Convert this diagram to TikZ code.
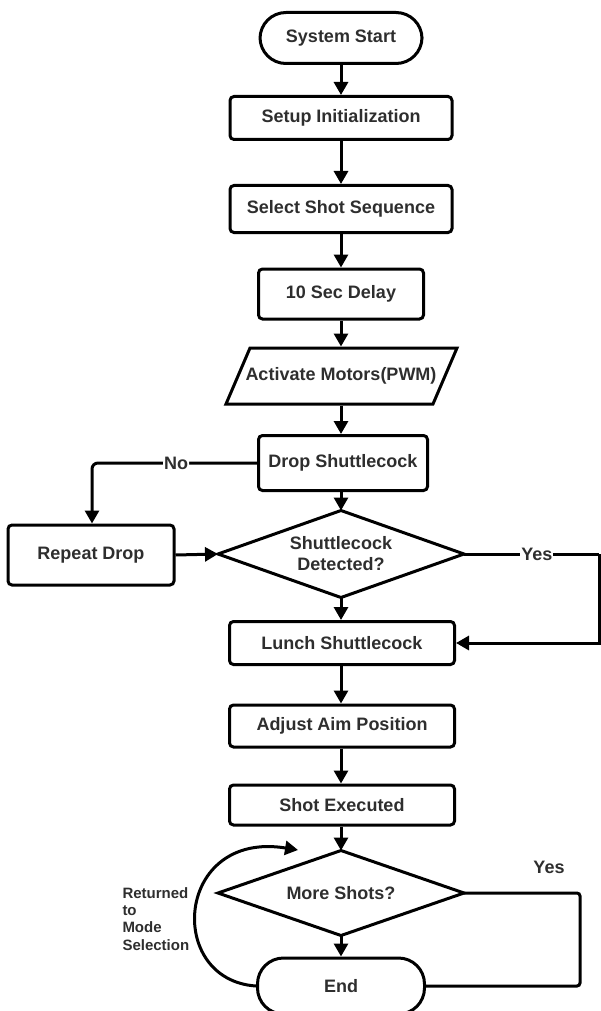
\documentclass[tikz,border=0pt]{standalone}
\usepackage{fontspec}
\setmainfont{Liberation Sans}
\usetikzlibrary{arrows.meta}
\begin{document}
\begin{tikzpicture}[x=1pt,y=-1pt,line width=3pt,
  txt/.style={font=\bfseries\fontsize{18}{21}\selectfont,text=black!82},
  box/.style={txt,draw,rounded corners=4pt,inner sep=0pt},
  term/.style={txt,draw,rounded corners=26pt,inner sep=0pt},
  dec/.style={txt,inner sep=0pt,align=center},
  arr/.style={-{Triangle[length=13pt,width=14pt]}},
  lbl/.style={txt,fill=white,inner sep=1pt}]
\useasboundingbox (0,0) rectangle (600,1011);
\node[term,minimum width=162pt,minimum height=51pt] (start) at (341,38) {System Start};
\node[box,minimum width=222pt,minimum height=43pt] (setup) at (341,118) {Setup Initialization};
\node[box,minimum width=222pt,minimum height=47pt] (select) at (341,209) {Select Shot Sequence};
\node[box,minimum width=165pt,minimum height=50pt] (delay) at (341,294) {10 Sec Delay};
\draw[line join=miter] (250,348) -- (457,348) -- (433,404) -- (226,404) -- cycle;
\node[txt,minimum width=180pt,minimum height=56pt,inner sep=0pt] (act) at (341,376) {Activate Motors(PWM)};
\node[box,minimum width=169pt,minimum height=55pt] (drop) at (343,463) {Drop Shuttlecock};
\node[box,minimum width=166pt,minimum height=60pt] (repeat) at (91,555) {Repeat Drop};
\node[dec,minimum width=243pt,minimum height=84pt] (det) at (341,554) {Shuttlecock\\Detected?};
\draw[line join=miter] (det.west) -- (det.north) -- (det.east) -- (det.south) -- cycle;
\node[box,minimum width=225pt,minimum height=43pt] (lunch) at (342,643) {Lunch Shuttlecock};
\node[box,minimum width=225pt,minimum height=42pt] (adjust) at (342,726) {Adjust Aim Position};
\node[box,minimum width=225pt,minimum height=40pt] (shot) at (342,805) {Shot Executed};
\node[dec,minimum width=243pt,minimum height=82pt] (more) at (341,893) {More Shots?};
\draw[line join=miter] (more.west) -- (more.north) -- (more.east) -- (more.south) -- cycle;
\node[term,minimum width=167pt,minimum height=56pt] (endn) at (341,986) {End};

\draw[arr] (start.south) -- (start.south |- setup.north);
\draw[arr] (setup.south) -- (setup.south |- select.north);
\draw[arr] (select.south) -- (select.south |- delay.north);
\draw[arr] (delay.south) -- (delay.south |- act.north);
\draw[arr] (act.south) -- (act.south |- drop.north);
\draw[arr] (drop.south -| det.north) -- (det.north);
\draw[arr] (det.south) -- (det.south |- lunch.north);
\draw[arr] (lunch.south -| det.south) -- (det.south |- adjust.north);
\draw[arr] (adjust.south -| det.south) -- (det.south |- shot.north);
\draw[arr] (shot.south -| more.north) -- (more.north);
\draw[arr] (more.south) -- (endn.north);

\coordinate (nocorner) at (92,463);
\draw[arr,rounded corners=6pt] (drop.west) -- node[lbl,pos=0.49]{No} (nocorner) -- (repeat.north -| nocorner);
\draw[arr] (repeat.east) -- (det.west);

\coordinate (yr) at (599,554);
\draw (det.east) -- node[lbl,pos=0.54]{Yes} (yr);
\draw[arr] (yr) |- (lunch.east);

\coordinate (r1) at (580,893);
\coordinate (r2) at (580,986);
\draw[rounded corners=3pt] (more.east) -- (r1) -- (r2) -- (endn.east);
\node[txt] (yes2) at (549,867) {Yes};

\coordinate (ret) at (298,850);
\draw[arr] (endn.west) .. controls (165,980) and (175,830) .. (ret);
\node[font=\bfseries\fontsize{15}{17.3}\selectfont,text=black!82,align=left,anchor=north west,inner sep=0pt] (retlbl) at (121,886) {Returned\\to\\Mode\\Selection};
\end{tikzpicture}
\end{document}
